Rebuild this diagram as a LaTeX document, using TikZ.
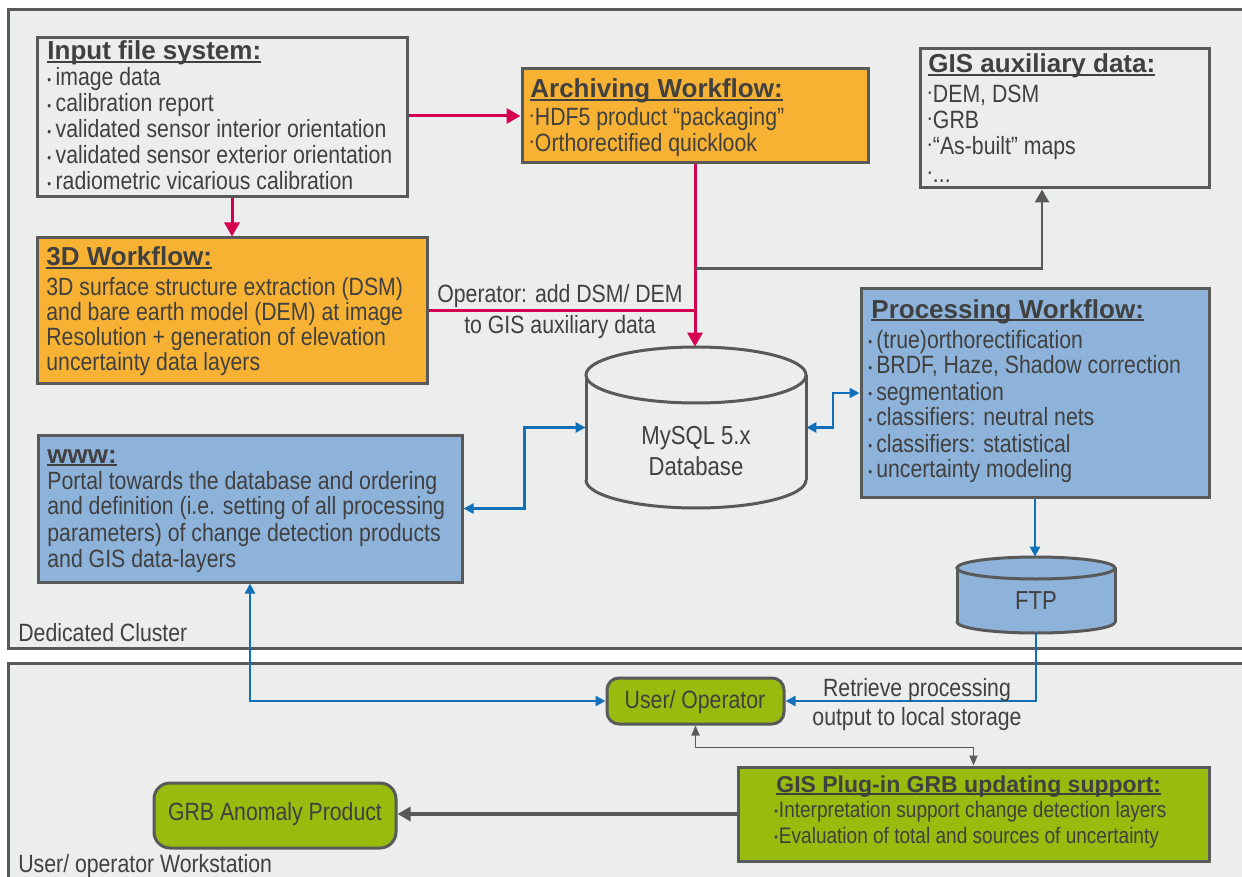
\documentclass[tikz,border=0pt]{standalone}
\usepackage{fontspec}
\setmainfont{Liberation Sans}
\newfontfamily\nf{Liberation Sans}[FakeStretch=0.85]
\usetikzlibrary{arrows.meta,fit,calc}
\definecolor{bgc}{RGB}{236,237,237}
\definecolor{edgec}{RGB}{89,89,89}
\definecolor{txtc}{RGB}{64,64,64}
\definecolor{orng}{RGB}{247,178,52}
\definecolor{bbox}{RGB}{142,179,218}
\definecolor{grn}{RGB}{153,187,14}
\definecolor{redc}{RGB}{214,0,80}
\definecolor{bluec}{RGB}{18,112,185}
\newcommand\ttl[2][13]{\leavevmode{\normalfont\bfseries\fontsize{#1}{#1}\selectfont\setbox0\hbox{#2}\rlap{\rule[-1.6pt]{\wd0}{1pt}}\box0}}
\newcommand\bl{\leavevmode\raisebox{0.6pt}{\fontsize{6.5}{6.5}\selectfont\textbullet}}
\newcommand\bh{\leavevmode\raisebox{3.2pt}{\fontsize{5}{5}\selectfont\textbullet}}
\newcommand\blb{\leavevmode\raisebox{1pt}{\fontsize{6}{6}\selectfont\textbullet}}
\begin{document}
\begin{tikzpicture}[x=0.5pt,y=-0.5pt,
 box/.style={draw=edgec,line width=1.5pt,inner sep=0pt,rectangle},
 rbox/.style={box,fill=grn,rounded corners=6pt},
 txt/.style={text=txtc,font=\nf\fontsize{12.5}{13}\selectfont,inner sep=0pt,anchor=base west},
 lbl/.style={txt,anchor=base},
 redl/.style={draw=redc,line width=1.5pt},
 redarr/.style={redl,-{Triangle[length=7pt,width=7.5pt]}},
 bluel/.style={draw=bluec,line width=1.2pt},
 bluearr/.style={bluel,-{Triangle[length=5pt,width=5pt]}},
 bluedbl/.style={bluel,{Triangle[length=5pt,width=5pt]}-{Triangle[length=5pt,width=5pt]}},
 grayl/.style={draw=edgec,line width=1.4pt},
 grayarr/.style={grayl,-{Triangle[length=6.5pt,width=7pt]}},
 graydbl/.style={draw=edgec,line width=0.9pt,{Triangle[length=5pt,width=4pt]}-{Triangle[length=5pt,width=4pt]}},
 cyl/.style={draw=edgec,line width=1.5pt}]
\useasboundingbox (0,0) rectangle (1242,877);
\fill[white] (0,0) rectangle (1242,877);
% frames
\draw[box,fill=bgc] (8,10) rectangle (1262,648);
\draw[box,fill=bgc] (8,663) rectangle (1262,900);

% boxes
\node[box, fit={(37,38)(407,197)}] (inp) {};
\node[box, fill=orng, fit={(522,69)(868,163)}] (arch) {};
\node[box, fit={(920,49)(1209,188)}] (gis) {};
\node[box, fill=orng, fit={(37,238)(427,383)}] (td) {};
\node[box, fill=bbox, fit={(861,289)(1209,497)}] (proc) {};
\node[box, fill=bbox, fit={(38,435)(462,582)}] (www) {};
\node[box, fill=grn, fit={(738,767)(1209,861)}] (gp) {};
\node[rbox, fit={(607,678)(784,724)}] (user) {};
\node[rbox, rounded corners=8pt, fit={(154,783)(396,848)}] (grb) {};

% database cylinder
\node[inner sep=0pt, fit={(586,347)(806,508)}] (db) {};
\fill[bgc] (586,375) rectangle (806,480);
\fill[bgc] (696,480) ellipse [x radius=110, y radius=28];
\begin{scope}
\clip (570,480) rectangle (822,520);
\draw[cyl] (696,480) ellipse [x radius=110, y radius=28];
\end{scope}
\draw[cyl] (586,375) -- (586,480) (806,375) -- (806,480);
\draw[cyl,fill=bgc] (696,375) ellipse [x radius=110, y radius=28];

% FTP cylinder
\node[inner sep=0pt, fit={(957,557)(1115,633)}] (ftp) {};
\fill[bbox] (957,568) rectangle (1115,622);
\fill[bbox] (1036,622) ellipse [x radius=79, y radius=11];
\begin{scope}
\clip (945,622) rectangle (1127,640);
\draw[cyl] (1036,622) ellipse [x radius=79, y radius=11];
\end{scope}
\draw[cyl] (957,568) -- (957,622) (1115,568) -- (1115,622);
\draw[cyl,fill=bbox] (1036,568) ellipse [x radius=79, y radius=11];

% red connectors
\draw[redarr] (inp.east |- arch.west) -- (arch.west);
\draw[redarr] (inp.south -| td.north) -- (td.north);
\draw[redl] (td.east) -- (td.east -| arch.south);
\draw[redarr] (arch.south) -- (arch.south |- db.north);
\coordinate (j1) at ($(arch.south)!0.57!(arch.south |- db.north)$);
\coordinate (gisin) at ($(gis.south)+(-22.5,0)$);
\draw[grayarr] (j1) -| (gisin);

% blue connectors
\coordinate (m1) at ($(www.east)!0.5!(db.west)$);
\draw[bluedbl] (www.east) -| (m1) |- (db.west);
\coordinate (m2) at ($(db.east)!0.5!(proc.west)$);
\draw[bluedbl] (db.east) -| (m2) |- (proc.west);
\draw[bluearr] (proc.south) -- (proc.south |- ftp.north);
\draw[bluearr] (ftp.south) |- (user.east);
\draw[bluedbl] (www.south) |- (user.west);

% gray connectors
\draw[graydbl] (user.south) -- ++(0,22) -| (gp.north);
\draw[grayarr, line width=1.6pt] (gp.west) -- (gp.west -| grb.east);

% texts
\node[txt] (inpt) at (47,60) {\parbox[t]{190pt}{\ttl{Input file system:}\\
\bl\kern2.2pt image data\\
\bl\kern2.2pt calibration report\\
\bl\kern2.2pt validated sensor interior orientation\\
\bl\kern2.2pt validated sensor exterior orientation\\
\bl\kern2.2pt radiometric vicarious calibration}};

\node[txt] (archt) at (530,98) {\parbox[t]{170pt}{\ttl{Archiving Workflow:}\\[1pt]
\bh\kern0.8pt HDF5 product “packaging”\\
\bh\kern0.8pt Orthorectified quicklook}};

\node[txt] (gist) at (928,73) {\parbox[t]{140pt}{\ttl{GIS auxiliary data:}\\[2pt]
\bh\kern0.8pt DEM, DSM\\
\bh\kern0.8pt GRB\\
\bh\kern0.8pt “As-built” maps\\[1pt]
\bh\kern0.8pt ...}};

\node[txt, font=\nf\fontsize{12.5}{12.6}\selectfont] (tdt) at (46,266) {\parbox[t]{195pt}{\ttl{3D Workflow:}\\[2pt]
3D surface structure extraction (DSM)\\
and bare earth model (DEM) at image\\
Resolution + generation of elevation\\
uncertainty data layers}};

\node[txt] (proct) at (868,318) {\parbox[t]{172pt}{\leavevmode\kern1.5pt\ttl{Processing Workflow:}\\[2pt]
\bl\kern2pt (true)orthorectification\\
\bl\kern2pt BRDF, Haze, Shadow correction\\
\bl\kern2pt segmentation\\
\bl\kern2pt classifiers: neutral nets\\
\bl\kern2pt classifiers: statistical\\
\bl\kern2pt uncertainty modeling}};

\node[txt] (wwwt) at (47,463) {\parbox[t]{210pt}{\ttl{www:}\\
Portal towards the database and ordering\\
and definition (i.e. setting of all processing\\
parameters) of change detection products\\
and GIS data-layers}};

\node[txt, font=\nf\fontsize{11.2}{12.75}\selectfont] (gpt) at (774,792) {\parbox[t]{230pt}{\leavevmode\kern1pt\ttl[11.5]{GIS Plug-in GRB updating support:}\\
\blb\kern0.5pt Interpretation support change detection layers\\
\blb\kern0.5pt Evaluation of total and sources of uncertainty}};

\node[lbl, font=\nf\fontsize{13}{13}\selectfont] (dbt1) at (696,444) {MySQL 5.x};
\node[lbl, font=\nf\fontsize{13}{13}\selectfont] (dbt2) at (696,475) {Database};
\node[lbl, font=\nf\fontsize{13}{13}\selectfont] (ftpt) at (1036,609) {FTP};

\node[lbl] (op1) at (560,302) {Operator: add DSM/ DEM};
\node[lbl] (op2) at (560,333) {to GIS auxiliary data};
\node[lbl] (rt1) at (917,696) {Retrieve processing};
\node[lbl] (rt2) at (917,725) {output to local storage};
\node[lbl] (usert) at (695,708) {User/ Operator};
\node[lbl] (grbt) at (275,820) {GRB Anomaly Product};
\node[txt] (dc) at (18,641) {Dedicated Cluster};
\node[txt] (uw) at (18,872) {User/ operator Workstation};
\end{tikzpicture}
\end{document}
